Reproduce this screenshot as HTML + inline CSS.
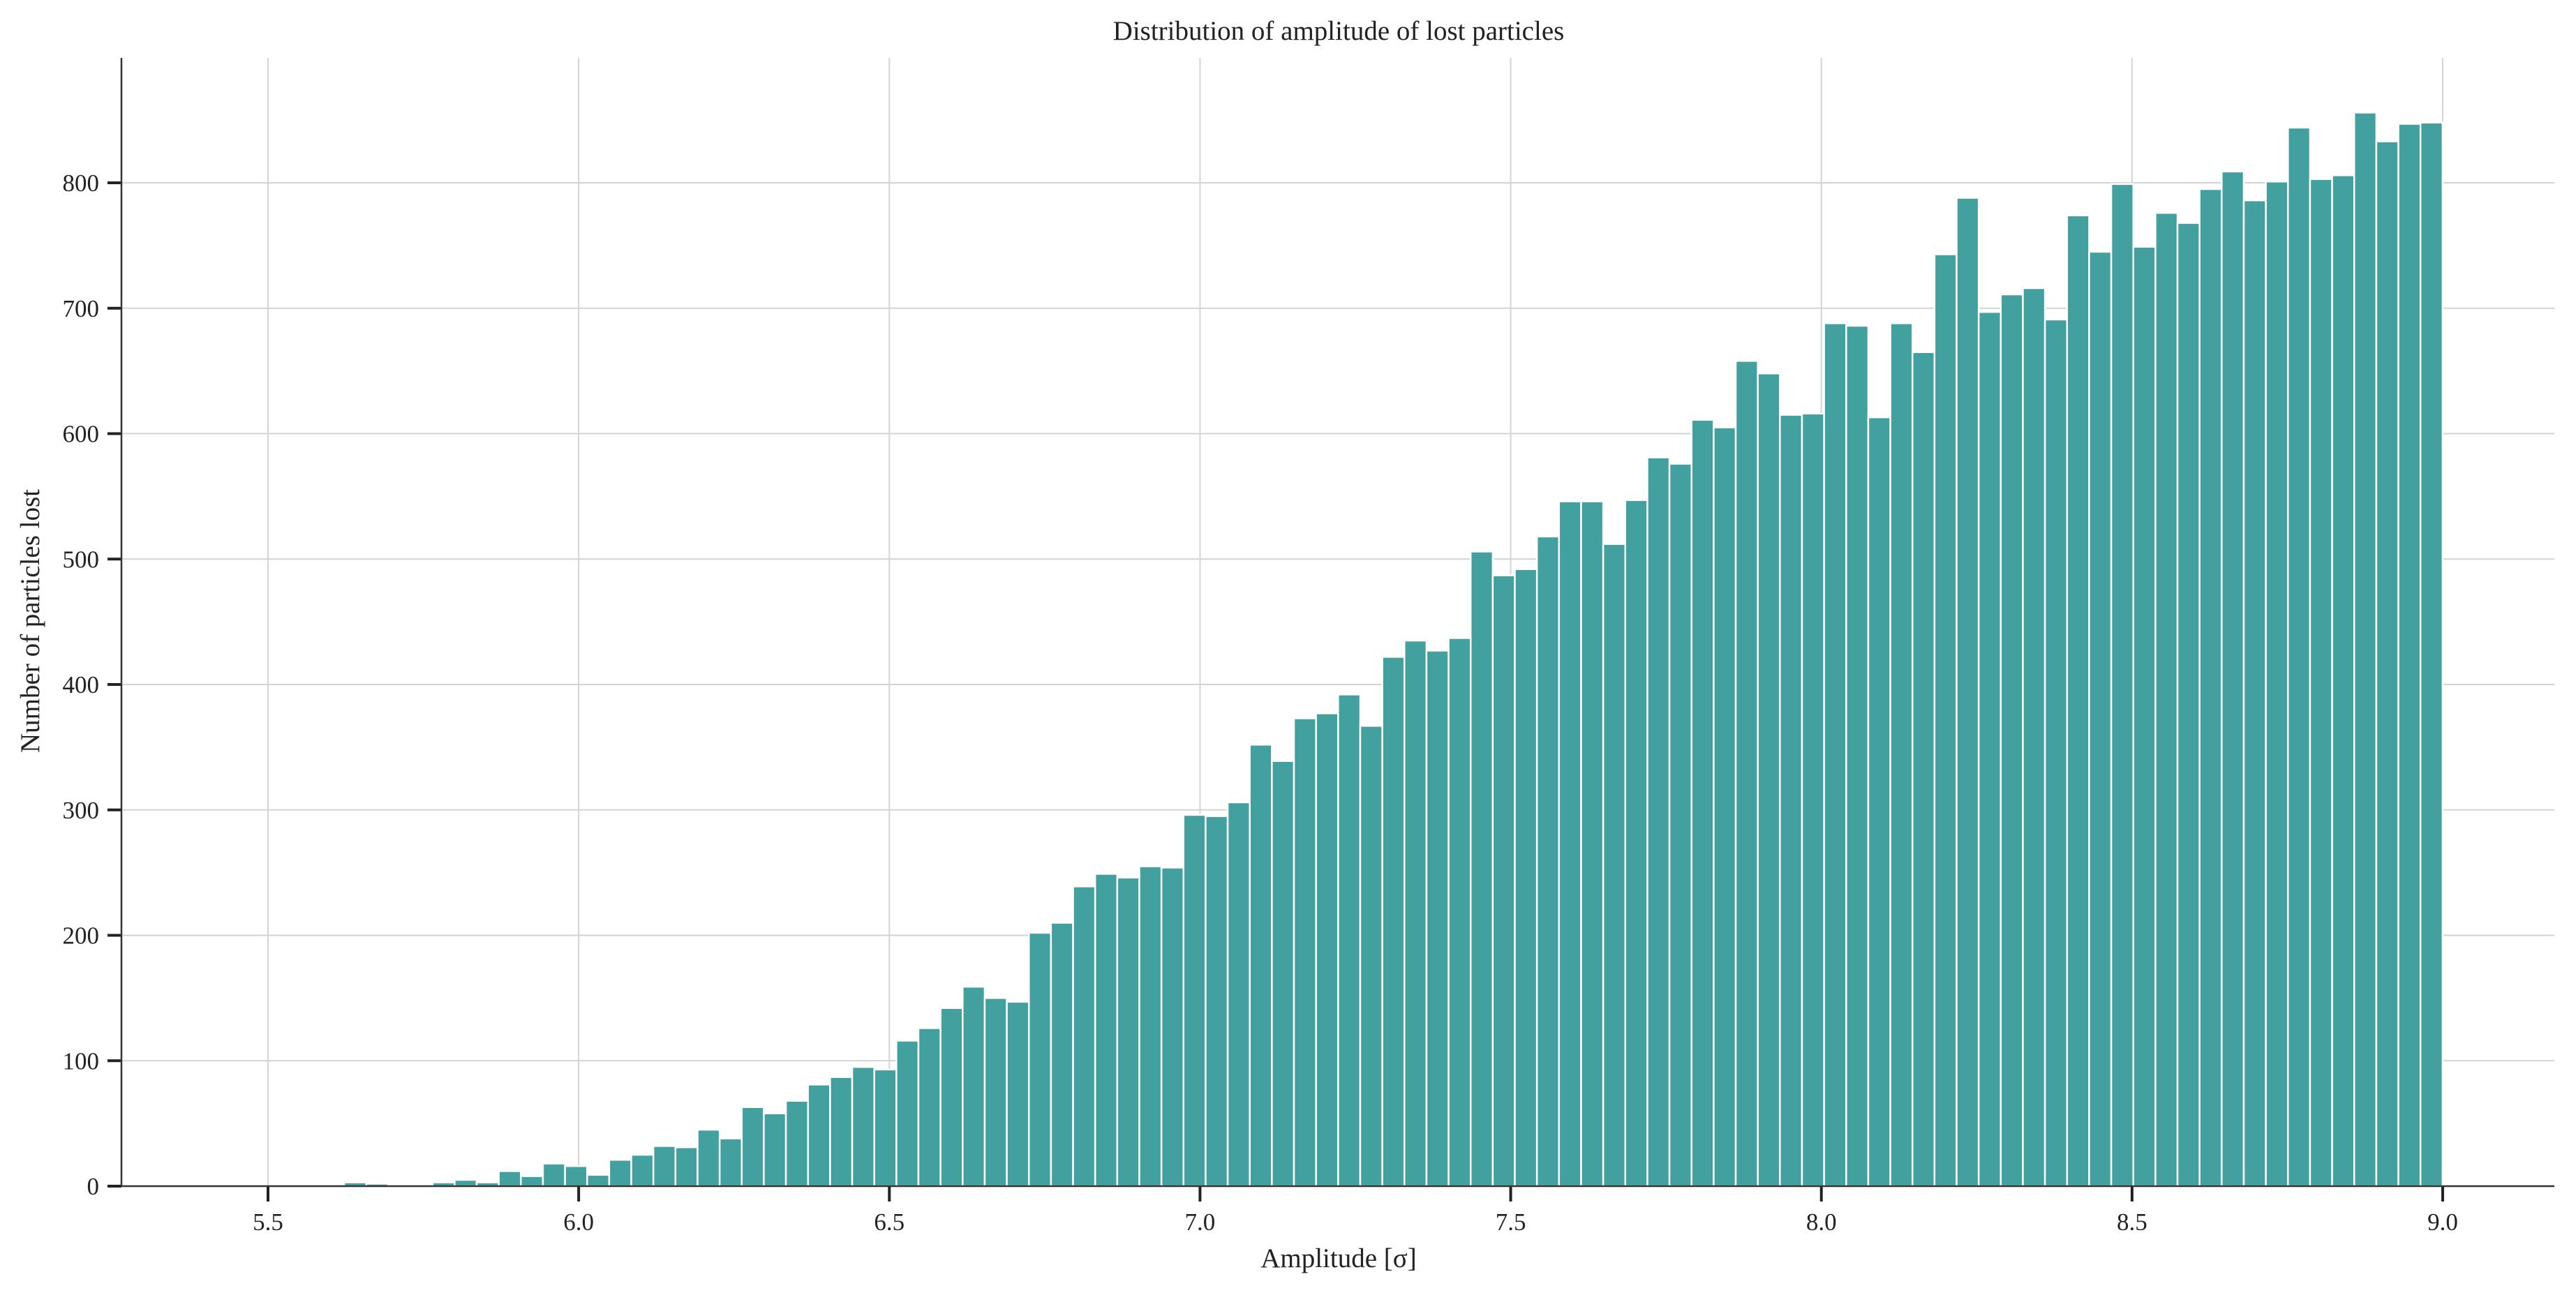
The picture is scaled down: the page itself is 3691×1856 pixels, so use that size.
<!DOCTYPE html>
<html><head><meta charset="utf-8">
<style>
html,body{margin:0;padding:0;background:#fff;}
svg{display:block;font-family:"Liberation Serif","DejaVu Serif",serif;}
</style></head>
<body>
<svg id="chart" width="3691" height="1856" viewBox="0 0 3691 1856" xmlns="http://www.w3.org/2000/svg">
<text x="1918" y="57" font-size="39" text-anchor="middle" fill="#222">Distribution of amplitude of lost particles</text>
<text x="1918" y="1816" font-size="39" text-anchor="middle" fill="#222">Amplitude [σ]</text>
<text x="0" y="0" font-size="39" text-anchor="middle" fill="#222" transform="translate(56,890) rotate(-90)">Number of particles lost</text>
<g id="grid"></g><g id="bars"></g><g id="axes"></g>
</svg>
<script>
const binStart = 5.587;
const binWidth = 0.03555;
const counts = [1,3,2,1,1,3,5,3,12,8,
18,16,9,21,25,32,31,45,38,63,
58,68,81,87,95,93,116,126,142,159,
150,147,202,210,239,249,246,255,254,296,
295,306,352,339,373,377,392,367,422,435,
427,437,506,487,492,518,546,546,512,547,
581,576,611,605,658,648,615,616,688,686,
613,688,665,743,788,697,711,716,691,774,
745,799,749,776,768,795,809,786,801,844,
803,806,856,833,847,848];
const xTicks = [5.5,6.0,6.5,7.0,7.5,8.0,8.5,9.0];
const xTickLabels = ["5.5","6.0","6.5","7.0","7.5","8.0","8.5","9.0"];
const yTicks = [0,100,200,300,400,500,600,700,800];
const yTickLabels = ["0","100","200","300","400","500","600","700","800"];

const NS = "http://www.w3.org/2000/svg";
const L = 174, R = 3660, T = 83, B = 1700;
function xs(v){ return 384 + (v - 5.5) * (3500 - 384) / 3.5; }
function ys(v){ return B - v * (B - 262) / 800; }
function mk(tag, attrs, parent){
  const e = document.createElementNS(NS, tag);
  for (const k in attrs) e.setAttribute(k, attrs[k]);
  parent.appendChild(e); return e;
}
const grid = document.getElementById('grid');
const bars = document.getElementById('bars');
const axes = document.getElementById('axes');

xTicks.forEach((v,i)=>{
  const g = mk('line',{x1:xs(v),x2:xs(v),y1:T,y2:B,stroke:'#d4d4d4','stroke-width':2},grid);
  
  
  const t = mk('line',{x1:xs(v),x2:xs(v),y1:B,y2:B+22,stroke:'#222','stroke-width':4},axes);
  
  
  const lb = mk('text',{x:xs(v),y:1763,'font-size':35,'text-anchor':'middle',fill:'#222'},axes);
  lb.textContent = xTickLabels[i];
  
  
});
yTicks.forEach((v,i)=>{
  const g = mk('line',{x1:L,x2:R,y1:ys(v),y2:ys(v),stroke:'#d4d4d4','stroke-width':2},grid);
  
  
  const t = mk('line',{x1:L-20,x2:L,y1:ys(v),y2:ys(v),stroke:'#222','stroke-width':4},axes);
  
  
  const lb = mk('text',{x:L-32,y:ys(v)+12,'font-size':35,'text-anchor':'end',fill:'#222'},axes);
  lb.textContent = yTickLabels[i];
  
  
});
counts.forEach((c,i)=>{
  const x0 = xs(binStart + i*binWidth), x1 = xs(binStart + (i+1)*binWidth);
  const r = mk('rect',{x:x0,y:ys(c),width:x1-x0,height:B-ys(c),fill:'#42a09e',stroke:'#ffffff','stroke-width':2.5},bars);
  
  
});
const xa = mk('line',{x1:L,x2:R,y1:B,y2:B,stroke:'#333','stroke-width':2.5},axes);


const ya = mk('line',{x1:L,x2:L,y1:T,y2:B,stroke:'#333','stroke-width':2.5},axes);


</script>
</body></html>
